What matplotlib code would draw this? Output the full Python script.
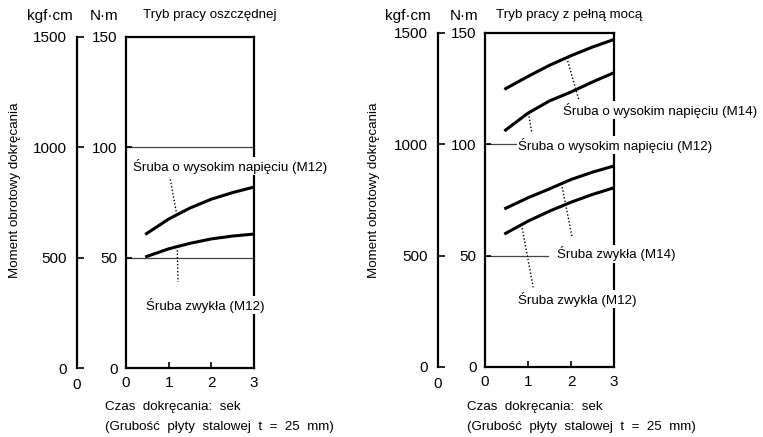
import matplotlib
matplotlib.use("Agg")
import matplotlib.pyplot as plt
from matplotlib import font_manager as fm
import numpy as np

# ---------------- data (N·m vs seconds) ----------------
time_s = [0.45, 1.0, 1.5, 2.0, 2.5, 3.0]
eco_high_m12 = [60.5, 67.5, 72.5, 76.5, 79.5, 82.0]
eco_std_m12 = [50.3, 54.0, 56.5, 58.5, 59.8, 60.7]
full_high_m14 = [124.7, 130.5, 135.5, 139.8, 143.7, 147.1]
full_high_m12 = [106.0, 114.0, 119.5, 123.5, 128.0, 132.2]
full_std_m14 = [71.0, 76.0, 80.0, 84.2, 87.5, 90.3]
full_std_m12 = [59.7, 65.5, 70.0, 74.0, 77.5, 80.5]

nm_ticks = [0, 50, 100, 150]
kgf_ticks = [0, 500, 1000, 1500]
time_ticks = [0, 1, 2, 3]

titles = ["Tryb pracy oszczędnej", "Tryb pracy z pełną mocą"]
ylabel = "Moment obrotowy dokręcania"
xlabel1 = "Czas  dokręcania:  sek"
xlabel2 = "(Grubość  płyty  stalowej  t  =  25  mm)"
lbl_high_m12 = "Śruba o wysokim napięciu (M12)"
lbl_high_m14 = "Śruba o wysokim napięciu (M14)"
lbl_std_m12 = "Śruba zwykła (M12)"
lbl_std_m14 = "Śruba zwykła (M14)"

# ---------------- fonts ----------------
names = {f.name for f in fm.fontManager.ttflist}
SANS = "Liberation Sans" if "Liberation Sans" in names else "DejaVu Sans"
NARROW = "Liberation Sans Narrow" if "Liberation Sans Narrow" in names else SANS
NARROW_SIZE = 11.5 if NARROW == "Liberation Sans Narrow" else 9.6
plt.rcParams["font.family"] = [SANS, "DejaVu Sans"]

W, H = 763, 437
fig = plt.figure(figsize=(W / 100, H / 100), dpi=100)


def rect(x0, x1, ytop, ybot):
    return [x0 / W, 1 - ybot / H, (x1 - x0) / W, (ybot - ytop) / H]


def ftext(x, y, s, **kw):
    fig.text(x / W, 1 - y / H, s, **kw)


def setup_main(ax):
    ax.set_xlim(0, 3)
    ax.set_ylim(0, 150)
    ax.set_xticks(time_ticks)
    ax.set_yticks(nm_ticks)
    for s in ax.spines.values():
        s.set_linewidth(1.6)
    ax.tick_params(direction="in", length=4, width=1.2, labelsize=11, pad=6)
    ax.patch.set_visible(False)


def setup_kgf(kax):
    kax.set_ylim(0, 1500)
    kax.set_xlim(0, 1)
    for k in ("top", "right", "bottom"):
        kax.spines[k].set_visible(False)
    kax.spines["left"].set_linewidth(1.6)
    kax.set_yticks(kgf_ticks)
    kax.tick_params(axis="y", direction="in", length=5, width=1.2, labelsize=11, pad=7)
    kax.set_xticks([0])
    kax.set_xticklabels(["0"])
    kax.tick_params(axis="x", length=0, labelsize=11, pad=7)
    kax.patch.set_visible(False)


def curve(ax, ys):
    ax.plot(time_s, ys, color="black", lw=2.2, solid_capstyle="butt", zorder=3)


def leader(ax, ys, xc, xl, yl):
    ax.plot([xc, xl], [np.interp(xc, time_s, ys), yl], color="black", lw=1.0,
            ls=(0, (1, 1.5)), zorder=3)


def label(ax, x, y, s):
    ax.text(x, y, s, fontfamily=[NARROW, "DejaVu Sans"], fontsize=NARROW_SIZE,
            ha="left", va="center", zorder=6, clip_on=False,
            bbox=dict(fc="white", ec="none", pad=1.0))


# ---------------- left panel ----------------
axL = fig.add_axes(rect(126, 254, 37, 368))
setup_main(axL)
kL = fig.add_axes(rect(77, 78, 37, 368))
setup_kgf(kL)
for y in (50, 100):
    axL.axhline(y, color="#444444", lw=0.9, zorder=1)
curve(axL, eco_high_m12)
curve(axL, eco_std_m12)
leader(axL, eco_high_m12, 1.19, 1.03, 86.5)
leader(axL, eco_std_m12, 1.20, 1.22, 39.0)
label(axL, 0.16, 91.5, lbl_high_m12)
label(axL, 0.48, 28.5, lbl_std_m12)

# ---------------- right panel ----------------
axR = fig.add_axes(rect(485, 614, 33, 367))
setup_main(axR)
kR = fig.add_axes(rect(438, 439, 33, 367))
setup_kgf(kR)
axR.plot([0, 0.767], [100, 100], color="#444444", lw=0.9, zorder=1)
axR.plot([0, 1.47], [50, 50], color="#444444", lw=0.9, zorder=1)
curve(axR, full_high_m14)
curve(axR, full_high_m12)
curve(axR, full_std_m14)
curve(axR, full_std_m12)
leader(axR, full_high_m14, 1.90, 2.19, 119.5)
leader(axR, full_high_m12, 1.01, 1.09, 105.0)
leader(axR, full_std_m14, 1.78, 2.02, 58.8)
leader(axR, full_std_m12, 0.85, 1.12, 35.8)
label(axR, 1.81, 115.4, lbl_high_m14)
label(axR, 0.77, 99.7, lbl_high_m12)
label(axR, 1.67, 50.8, lbl_std_m14)
label(axR, 0.77, 30.5, lbl_std_m12)

# ---------------- header / footer text ----------------
for xk, xn, xt, xb, xy in ((50, 104, 210, 105, 15), (408, 464, 569, 467, 374)):
    ftext(xk, 16, "kgf·cm", ha="center", va="center", fontsize=11)
    ftext(xn, 16, "N·m", ha="center", va="center", fontsize=11)
    ftext(xt, 15, titles[0] if xk < 300 else titles[1], ha="center", va="center",
          fontfamily=[NARROW, "DejaVu Sans"], fontsize=NARROW_SIZE)
    ftext(xb, 407, xlabel1, ha="left", va="center",
          fontfamily=[NARROW, "DejaVu Sans"], fontsize=NARROW_SIZE)
    ftext(xb, 427, xlabel2, ha="left", va="center",
          fontfamily=[NARROW, "DejaVu Sans"], fontsize=NARROW_SIZE)
    ftext(xy, 190, ylabel, ha="center", va="center", rotation=90,
          fontfamily=[NARROW, "DejaVu Sans"], fontsize=NARROW_SIZE)

fig.savefig("out.png", dpi=100, facecolor="white")
